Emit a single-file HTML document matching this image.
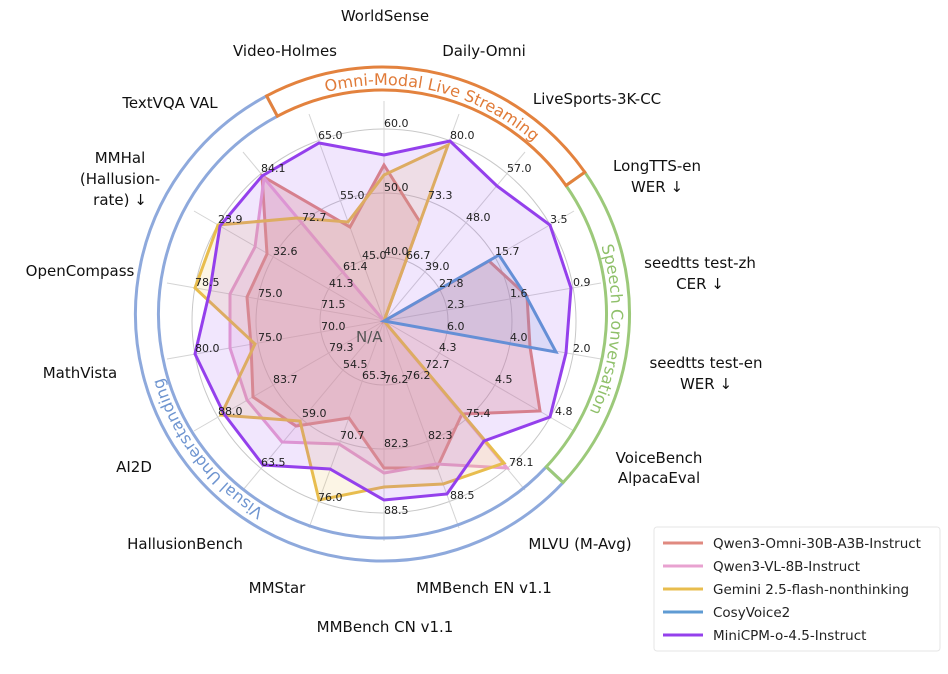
<!DOCTYPE html>
<html><head><meta charset="utf-8"><style>
html,body{margin:0;padding:0;background:#fff;}
svg{display:block;font-family:"DejaVu Sans","Liberation Sans",sans-serif;}
.ax{font-size:15px;fill:#111;text-anchor:middle;}
.tk{font-size:11px;fill:#222;}
.lg{font-size:13.5px;fill:#222;}
</style></head><body>
<svg width="948" height="674" viewBox="0 0 948 674" xmlns="http://www.w3.org/2000/svg">
<rect width="948" height="674" fill="#fff"/>
<!-- grid -->
<g fill="none" stroke="#c8c8c8" stroke-width="1">
<circle cx="384" cy="321" r="64"/><circle cx="384" cy="321" r="128"/><circle cx="384" cy="321" r="192"/>
<g stroke="#d4d4d4">
<line x1="384" y1="321" x2="384" y2="101"/>
<line x1="384" y1="321" x2="459" y2="114"/>
<line x1="384" y1="321" x2="525" y2="152"/>
<line x1="384" y1="321" x2="574" y2="211"/>
<line x1="384" y1="321" x2="601" y2="283"/>
<line x1="384" y1="321" x2="601" y2="359"/>
<line x1="384" y1="321" x2="574" y2="431"/>
<line x1="384" y1="321" x2="525" y2="490"/>
<line x1="384" y1="321" x2="459" y2="528"/>
<line x1="384" y1="321" x2="384" y2="541"/>
<line x1="384" y1="321" x2="309" y2="528"/>
<line x1="384" y1="321" x2="243" y2="490"/>
<line x1="384" y1="321" x2="194" y2="431"/>
<line x1="384" y1="321" x2="167" y2="359"/>
<line x1="384" y1="321" x2="167" y2="283"/>
<line x1="384" y1="321" x2="194" y2="211"/>
<line x1="384" y1="321" x2="243" y2="152"/>
<line x1="384" y1="321" x2="309" y2="114"/>
</g></g>
<!-- series -->
<g stroke-width="3" stroke-linejoin="miter">
<polygon fill="#e08a80" fill-opacity="0.28" stroke="#e08a80" points="384,165 420,222 384,321 489,261 527,296 530,347 540,411 462,414 437,468 384,468 349,418 296,426 253,397 251,345 247,297 267,254 262,176 350,227"/>
<polygon fill="#e8a2d0" fill-opacity="0.2" stroke="#e8a2d0" points="384,321 507,468 436,464 384,473 339,444 282,442 247,400 230,348 230,294 255,247 264,178"/>
<polygon fill="#e8bd4e" fill-opacity="0.15" stroke="#e8bd4e" points="384,175 448,145 384,321 504,463 443,484 384,487 319,500 300,421 221,415 255,344 195,288 218,225 297,218 348,222"/>
<polygon fill="#5f9bd3" fill-opacity="0.15" stroke="#5f9bd3" points="384,321 499,255 526,296 556,352"/>
<polygon fill="#9440ec" fill-opacity="0.13" stroke="#9440ec" points="384,155 450,141 497,186 550,225 571,288 566,353 550,417 484,441 447,494 384,500 330,469 263,465 224,414 195,354 210,290 220,226 262,176 319,143"/>
</g>
<!-- tick labels -->
<g class="tk">
<text x="384" y="255">40.0</text><text x="384" y="191">50.0</text><text x="384" y="127">60.0</text>
<text x="406" y="259">66.7</text><text x="428" y="199">73.3</text><text x="450" y="139">80.0</text>
<text x="425" y="270">39.0</text><text x="466" y="221">48.0</text><text x="507" y="172">57.0</text>
<text x="439" y="287">27.8</text><text x="495" y="255">15.7</text><text x="550" y="223">3.5</text>
<text x="447" y="308">2.3</text><text x="510" y="297">1.6</text><text x="573" y="286">0.9</text>
<text x="447" y="330">6.0</text><text x="510" y="341">4.0</text><text x="573" y="352">2.0</text>
<text x="439" y="351">4.3</text><text x="495" y="383">4.5</text><text x="555" y="415">4.8</text>
<text x="425" y="368">72.7</text><text x="466" y="417">75.4</text><text x="509" y="466">78.1</text>
<text x="406" y="379">76.2</text><text x="428" y="439">82.3</text><text x="450" y="499">88.5</text>
<text x="384" y="383">76.2</text><text x="384" y="447">82.3</text><text x="384" y="514">88.5</text>
<text x="362" y="379">65.3</text><text x="340" y="439">70.7</text><text x="318" y="501">76.0</text>
<text x="343" y="368">54.5</text><text x="302" y="417">59.0</text><text x="261" y="466">63.5</text>
<text x="329" y="351">79.3</text><text x="273" y="383">83.7</text><text x="218" y="415">88.0</text>
<text x="321" y="330">70.0</text><text x="258" y="341">75.0</text><text x="195" y="352">80.0</text>
<text x="321" y="308">71.5</text><text x="258" y="297">75.0</text><text x="195" y="286">78.5</text>
<text x="329" y="287">41.3</text><text x="273" y="255">32.6</text><text x="218" y="223">23.9</text>
<text x="343" y="270">61.4</text><text x="302" y="221">72.7</text><text x="261" y="172">84.1</text>
<text x="362" y="259">45.0</text><text x="340" y="199">55.0</text><text x="318" y="139">65.0</text>
</g>
<text x="356" y="342" font-size="15" fill="#555">N/A</text>
<!-- bands -->
<g fill="none" stroke-width="3">
<path stroke="#8ea9dc" d="M563.1,482.5 A247,247 0 1 1 266.6,95.9 L277.4,116.2 A224,224 0 1 0 546.3,466.8 Z"/>
<path stroke="#9cc97a" d="M584.8,172.2 A247,247 0 0 1 563.1,482.5 L546.3,466.8 A224,224 0 0 0 566,185.5 Z"/>
<path stroke="#e3823e" d="M266.6,95.9 A247,247 0 0 1 584.8,172.2 L566,185.5 A224,224 0 0 0 277.4,116.2 Z"/>
</g>
<defs>
<path id="po" d="M184.2,199.5 A229,229 0 0 1 611.2,302"/>
<path id="pg" d="M529.7,138.6 A229,229 0 0 1 503.9,508.2"/>
<path id="pb" d="M422.3,539.5 A229,229 0 0 1 175,217.2"/>
</defs>
<text font-size="16" fill="#e07b39"><textPath href="#po" startOffset="50%" text-anchor="middle">Omni-Modal Live Streaming</textPath></text>
<text font-size="16" fill="#8fc06a"><textPath href="#pg" startOffset="50%" text-anchor="middle">Speech Conversation</textPath></text>
<text font-size="16" fill="#6f95d0"><textPath href="#pb" startOffset="50%" text-anchor="middle">Visual Understanding</textPath></text>
<!-- axis labels -->
<g class="ax">
<text x="385" y="21">WorldSense</text>
<text x="285" y="56">Video-Holmes</text>
<text x="484" y="56">Daily-Omni</text>
<text x="170" y="108">TextVQA VAL</text>
<text x="597" y="104">LiveSports-3K-CC</text>
<text x="120" y="163">MMHal</text><text x="120" y="184">(Hallusion-</text><text x="120" y="205">rate) ↓</text>
<text x="657" y="171">LongTTS-en</text><text x="657" y="192">WER ↓</text>
<text x="80" y="276">OpenCompass</text>
<text x="700" y="268">seedtts test-zh</text><text x="700" y="289">CER ↓</text>
<text x="80" y="378">MathVista</text>
<text x="706" y="368">seedtts test-en</text><text x="706" y="389">WER ↓</text>
<text x="134" y="472">AI2D</text>
<text x="659" y="463">VoiceBench</text><text x="659" y="483">AlpacaEval</text>
<text x="185" y="549">HallusionBench</text>
<text x="580" y="549">MLVU (M-Avg)</text>
<text x="277" y="593">MMStar</text>
<text x="484" y="593">MMBench EN v1.1</text>
<text x="385" y="632">MMBench CN v1.1</text>
</g>
<!-- legend -->
<rect x="654" y="527" width="286" height="124" rx="3" fill="#fff" stroke="#e6e6e6"/>
<g stroke-width="3">
<line x1="663" y1="543" x2="703" y2="543" stroke="#e08a80"/>
<line x1="663" y1="566" x2="703" y2="566" stroke="#e8a2d0"/>
<line x1="663" y1="589" x2="703" y2="589" stroke="#e8bd4e"/>
<line x1="663" y1="612" x2="703" y2="612" stroke="#5f9bd3"/>
<line x1="663" y1="635" x2="703" y2="635" stroke="#9440ec"/>
</g>
<g class="lg">
<text x="713" y="548">Qwen3-Omni-30B-A3B-Instruct</text>
<text x="713" y="571">Qwen3-VL-8B-Instruct</text>
<text x="713" y="594">Gemini 2.5-flash-nonthinking</text>
<text x="713" y="617">CosyVoice2</text>
<text x="713" y="640">MiniCPM-o-4.5-Instruct</text>
</g>
</svg>
</body></html>
